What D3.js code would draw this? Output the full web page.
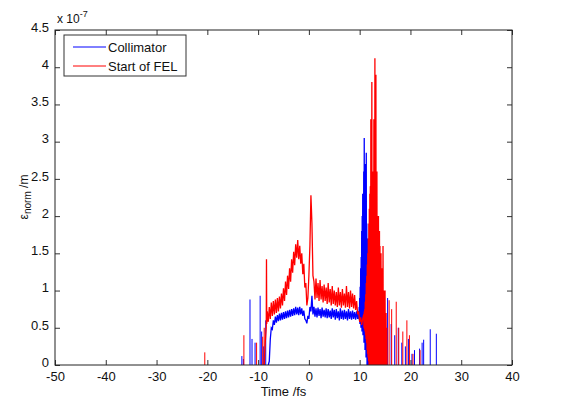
<!DOCTYPE html>
<html>
<head>
<meta charset="utf-8">
<script src="https://cdn.jsdelivr.net/npm/d3@7"></script>
<style>
  body { margin: 0; background: #fff; }
  svg { display: block; font-family: 'Liberation Sans', Arial, sans-serif; }
  .axis text { font-size: 13px; fill: #111; }
  .axis line { stroke: #333; }
</style>
</head>
<body>
<div id="chart"></div>
<script>
// values in units of 1e-7 m, time in fs
var seriesNames = ['Collimator', 'Start of FEL']
var xTicks = [-50, -40, -30, -20, -10, 0, 10, 20, 30, 40]
var yTicks = [0, 0.5, 1, 1.5, 2, 2.5, 3, 3.5, 4, 4.5]

// Collimator: main body [time, value]
var blueBody = [
  [-8.0, 0], [-7.8, 0.05], [-7.6, 0.35], [-7.4, 0.5], [-7.2, 0.48], [-7.0, 0.6],
  [-6.8, 0.54], [-6.6, 0.65], [-6.4, 0.57], [-6.2, 0.67], [-6.0, 0.59], [-5.8, 0.69],
  [-5.6, 0.6], [-5.4, 0.7], [-5.2, 0.61], [-5.0, 0.71], [-4.8, 0.62], [-4.6, 0.72],
  [-4.4, 0.63], [-4.2, 0.73], [-4.0, 0.64], [-3.8, 0.74], [-3.6, 0.65], [-3.4, 0.75],
  [-3.2, 0.66], [-3.0, 0.76], [-2.8, 0.67], [-2.6, 0.78], [-2.4, 0.68], [-2.2, 0.77],
  [-2.0, 0.67], [-1.8, 0.78], [-1.6, 0.68], [-1.4, 0.76], [-1.2, 0.66], [-1.0, 0.73],
  [-0.8, 0.62], [-0.6, 0.6], [-0.4, 0.56], [-0.2, 0.66], [0.0, 0.62], [0.2, 0.78],
  [0.4, 0.72], [0.6, 0.93], [0.8, 0.68], [1.0, 0.78], [1.2, 0.65], [1.4, 0.76],
  [1.6, 0.64], [1.8, 0.77], [2.0, 0.66], [2.2, 0.75], [2.4, 0.63], [2.6, 0.77],
  [2.8, 0.65], [3.0, 0.74], [3.2, 0.64], [3.4, 0.76], [3.6, 0.63], [3.8, 0.75],
  [4.0, 0.64], [4.2, 0.73], [4.4, 0.62], [4.6, 0.76], [4.8, 0.64], [5.0, 0.74],
  [5.2, 0.61], [5.4, 0.75], [5.6, 0.63], [5.8, 0.72], [6.0, 0.6], [6.2, 0.76],
  [6.4, 0.62], [6.6, 0.73], [6.8, 0.61], [7.0, 0.74], [7.2, 0.62], [7.4, 0.72],
  [7.6, 0.6], [7.8, 0.75], [8.0, 0.62], [8.2, 0.72], [8.4, 0.61], [8.6, 0.73],
  [8.8, 0.62], [9.0, 0.71], [9.2, 0.61], [9.4, 0.72], [9.6, 0.62],
  [9.80, 0.72], [9.85, 0.62], [9.90, 0.78], [9.95, 0.6], [10.00, 0.9], [10.05, 0.55],
  [10.10, 1.05], [10.15, 0.6], [10.20, 1.3], [10.25, 0.5], [10.30, 1.45], [10.35, 0.7],
  [10.40, 1.8], [10.45, 0.45], [10.50, 2.0], [10.55, 0.8], [10.60, 2.3], [10.65, 0.4],
  [10.70, 1.9], [10.75, 0.6], [10.80, 2.6], [10.85, 0.3], [10.90, 3.05], [10.95, 0.5],
  [11.00, 2.2], [11.05, 0.2], [11.10, 2.7], [11.15, 0.4], [11.20, 1.6], [11.25, 0.1],
  [11.30, 2.85], [11.35, 0.3], [11.40, 1.9], [11.45, 0], [11.50, 1.5], [11.55, 0.2],
  [11.60, 1.7], [11.65, 0], [11.70, 1.1], [11.75, 0.1], [11.80, 1.2], [11.85, 0],
  [11.90, 0.7], [11.95, 0], [12.00, 0.8], [12.05, 0], [12.10, 0.4], [12.20, 0.5],
  [12.25, 0], [12.35, 0.3], [12.40, 0]
]

// Collimator: isolated spikes [time, value]
var blueSpikes = [
  [-13.2, 0.12], [-12.9, 0.08], [-11.6, 0.88], [-11.2, 0.35], [-10.6, 0.3],
  [-9.6, 0.93], [-9.3, 0.45], [-8.9, 0.25], [-8.5, 0.6],
  [12.8, 1.05], [13.5, 0.75], [14.2, 0.85], [14.8, 0.6], [15.5, 0.9], [16.2, 0.55],
  [16.9, 0.4], [17.6, 0.5], [18.3, 0.3], [19.0, 0.25], [19.6, 0.35], [20.3, 0.15],
  [20.8, 0.2], [21.8, 0.22], [22.3, 0.3], [22.6, 0.34], [23.9, 0.48], [25.1, 0.42]
]

// Start of FEL: main body [time, value]
var redBody = [
  [-8.8, 0], [-8.6, 0.3], [-8.4, 0.5], [-8.35, 1.42], [-8.3, 0.55], [-8.2, 0.72],
  [-8.0, 0.58], [-7.8, 0.78], [-7.6, 0.62], [-7.4, 0.84], [-7.2, 0.66], [-7.0, 0.86],
  [-6.8, 0.68], [-6.6, 0.88], [-6.4, 0.7], [-6.2, 0.9], [-6.0, 0.72], [-5.8, 0.92],
  [-5.6, 0.76], [-5.4, 0.96], [-5.2, 0.8], [-5.0, 1.03], [-4.8, 0.86], [-4.6, 1.12],
  [-4.4, 0.94], [-4.2, 1.2], [-4.0, 1.02], [-3.8, 1.3], [-3.6, 1.12], [-3.4, 1.42],
  [-3.2, 1.24], [-3.0, 1.52], [-2.8, 1.34], [-2.6, 1.62], [-2.4, 1.44], [-2.2, 1.68],
  [-2.0, 1.42], [-1.8, 1.6], [-1.6, 1.36], [-1.4, 1.5], [-1.2, 1.22], [-1.0, 1.36],
  [-0.8, 1.04], [-0.6, 1.1], [-0.4, 0.8], [-0.2, 0.9], [0.0, 1.2], [0.2, 1.6],
  [0.4, 2.28], [0.5, 2.1], [0.6, 1.9], [0.8, 1.2], [1.0, 1.12], [1.2, 0.88],
  [1.4, 1.16], [1.6, 0.9], [1.8, 1.1], [2.0, 0.86], [2.2, 1.14], [2.4, 0.88],
  [2.6, 1.06], [2.8, 0.84], [3.0, 1.08], [3.2, 0.86], [3.4, 1.04], [3.6, 0.82],
  [3.8, 1.1], [4.0, 0.84], [4.2, 1.02], [4.4, 0.8], [4.6, 1.06], [4.8, 0.82],
  [5.0, 1.0], [5.2, 0.8], [5.4, 0.98], [5.6, 0.78], [5.8, 1.04], [6.0, 0.8],
  [6.2, 0.98], [6.4, 0.77], [6.6, 1.02], [6.8, 0.8], [7.0, 0.96], [7.2, 0.77],
  [7.4, 1.06], [7.6, 0.78], [7.8, 0.98], [8.0, 0.76], [8.2, 1.0], [8.4, 0.78],
  [8.6, 0.96], [8.8, 0.76], [9.0, 0.94], [9.2, 0.74], [9.4, 0.86], [9.6, 0.68],
  [9.8, 0.72], [10.0, 0.58], [10.2, 0.64], [10.4, 0.54], [10.6, 0.62],
  [10.80, 0.68], [10.85, 0.5], [10.90, 0.72], [10.95, 0.48], [11.00, 0.75], [11.05, 0.45],
  [11.10, 0.85], [11.15, 0.4], [11.20, 0.95], [11.25, 0.35], [11.30, 1.1], [11.35, 0.3],
  [11.40, 1.2], [11.45, 0.2], [11.50, 1.35], [11.55, 0.15], [11.60, 1.5], [11.65, 0.1],
  [11.70, 1.7], [11.75, 0.05], [11.80, 1.9], [11.85, 0], [11.90, 2.1], [11.95, 0.1],
  [12.00, 2.3], [12.05, 0], [12.10, 2.4], [12.15, 0.2], [12.20, 3.3], [12.25, 0],
  [12.30, 2.5], [12.35, 0.1], [12.40, 3.8], [12.45, 0], [12.50, 2.4], [12.55, 0.2],
  [12.60, 2.6], [12.65, 0], [12.70, 2.3], [12.75, 0.1], [12.80, 3.3], [12.85, 0],
  [12.90, 2.5], [12.95, 0.2], [13.00, 4.12], [13.05, 0], [13.10, 2.4], [13.15, 0.1],
  [13.20, 3.9], [13.25, 0], [13.30, 2.2], [13.35, 0.2], [13.40, 2.6], [13.45, 0],
  [13.50, 2.0], [13.55, 0.1], [13.60, 1.9], [13.65, 0], [13.70, 2.0], [13.75, 0.2],
  [13.80, 1.7], [13.85, 0], [13.90, 1.8], [13.95, 0.1], [14.00, 1.6], [14.05, 0],
  [14.10, 1.4], [14.15, 0.2], [14.20, 1.5], [14.25, 0], [14.30, 1.2], [14.35, 0.1],
  [14.40, 1.3], [14.45, 0], [14.50, 1.0], [14.55, 0.1], [14.60, 1.6], [14.65, 0],
  [14.70, 0.9], [14.75, 0.2], [14.80, 1.0], [14.85, 0], [14.90, 0.8], [14.95, 0],
  [15.00, 1.0], [15.05, 0], [15.10, 0.6], [15.20, 0.7], [15.25, 0], [15.35, 0.5],
  [15.40, 0]
]

// Start of FEL: isolated spikes [time, value]
var redSpikes = [
  [-20.5, 0.17], [-12.8, 0.4], [-10.3, 0.3], [-9.1, 0.38], [-8.8, 0.5],
  [15.8, 0.87], [16.3, 0.75], [17.2, 0.85], [17.7, 0.5],
  [18.5, 0.45], [19.3, 0.6], [19.8, 0.4], [20.5, 0.15], [21.9, 0.2]
]

var colors = ['#0000ff', '#ff0000']

var margin = { top: 30, left: 55, right: 51, bottom: 34 }
var width = 563 - margin.left - margin.right
var height = 399 - margin.top - margin.bottom

var svg = d3
  .select('#chart')
  .append('svg')
  .attr('width', 563)
  .attr('height', 399)

svg.append('rect').attr('width', 563).attr('height', 399).attr('fill', '#fff')

var g = svg
  .append('g')
  .attr('transform', 'translate(' + margin.left + ',' + margin.top + ')')

var xPositionScale = d3.scaleLinear().domain([-50, 40]).range([0, width])
var yPositionScale = d3.scaleLinear().domain([0, 4.5]).range([height, 0])

g.append('defs')
  .append('clipPath')
  .attr('id', 'plot-clip')
  .append('rect')
  .attr('width', width)
  .attr('height', height)

var plot = g.append('g').attr('clip-path', 'url(#plot-clip)')

var line = d3
  .line()
  .x(d => xPositionScale(d[0]))
  .y(d => yPositionScale(d[1]))

function drawSeries(body, spikes, color) {
  plot
    .selectAll(null)
    .data(spikes)
    .enter()
    .append('line')
    .attr('x1', d => xPositionScale(d[0]))
    .attr('x2', d => xPositionScale(d[0]))
    .attr('y1', yPositionScale(0))
    .attr('y2', d => yPositionScale(d[1]))
    .attr('stroke', color)
    .attr('stroke-width', 1)

  plot
    .append('path')
    .datum(body)
    .attr('d', line)
    .attr('fill', 'none')
    .attr('stroke', color)
    .attr('stroke-width', 1.3)
}

drawSeries(blueBody, blueSpikes, colors[0])
drawSeries(redBody, redSpikes, colors[1])

// axes, matlab style: ticks pointing in on all four sides
var fmt = d => String(d)
var xAxis = d3.axisBottom(xPositionScale).tickValues(xTicks).tickFormat(fmt).tickSizeInner(-5).tickSizeOuter(0).tickPadding(7)
g.append('g')
  .attr('class', 'axis x-axis')
  .attr('transform', 'translate(0,' + height + ')')
  .call(xAxis)

g.append('g')
  .attr('class', 'axis')
  .call(d3.axisTop(xPositionScale).tickValues(xTicks).tickSizeInner(-5).tickSizeOuter(0).tickFormat(''))

var yAxis = d3.axisLeft(yPositionScale).tickValues(yTicks).tickFormat(fmt).tickSizeInner(-5).tickSizeOuter(0).tickPadding(6)
g.append('g')
  .attr('class', 'axis y-axis')
  .call(yAxis)
  .selectAll('text')
  .attr('dy', '0.1em')

g.append('g')
  .attr('class', 'axis')
  .attr('transform', 'translate(' + width + ',0)')
  .call(d3.axisRight(yPositionScale).tickValues(yTicks).tickSizeInner(-5).tickSizeOuter(0).tickFormat(''))

g.selectAll('.axis .domain').remove()

g.append('rect')
  .attr('width', width)
  .attr('height', height)
  .attr('fill', 'none')
  .attr('stroke', '#222')
  .attr('stroke-width', 1)

// exponent label
var expo = g.append('text').attr('x', 2).attr('y', -7).attr('font-size', 12).attr('fill', '#111')
expo.append('tspan').text('x 10')
expo.append('tspan').text('-7').attr('font-size', 9).attr('dy', -6)

// axis titles
g.append('text')
  .text('Time /fs')
  .attr('x', width / 2)
  .attr('y', height + 31)
  .attr('text-anchor', 'middle')
  .attr('font-size', 13)
  .attr('fill', '#111')

var ylab = svg
  .append('text')
  .attr('transform', 'translate(28,197) rotate(-90)')
  .attr('text-anchor', 'middle')
  .attr('font-size', 12)
  .attr('fill', '#111')
ylab.append('tspan').text('\u03b5')
ylab.append('tspan').text('norm').attr('font-size', 10).attr('dy', 3)
ylab.append('tspan').text(' /m').attr('dy', -3)

// legend
var legend = g.append('g').attr('transform', 'translate(9,5)')
legend
  .append('rect')
  .attr('width', 122)
  .attr('height', 41)
  .attr('fill', '#fff')
  .attr('stroke', '#333')

legend
  .selectAll('.item')
  .data(seriesNames)
  .enter()
  .append('g')
  .attr('class', 'item')
  .attr('transform', (d, i) => 'translate(0,' + (12 + i * 19) + ')')
  .each(function(d, i) {
    var item = d3.select(this)
    item
      .append('line')
      .attr('x1', 9)
      .attr('x2', 42)
      .attr('stroke', colors[i])
      .attr('stroke-width', 1)
    item
      .append('text')
      .text(d)
      .attr('x', 44)
      .attr('dy', '0.35em')
      .attr('font-size', 13)
      .attr('fill', '#111')
  })
</script>
</body>
</html>
